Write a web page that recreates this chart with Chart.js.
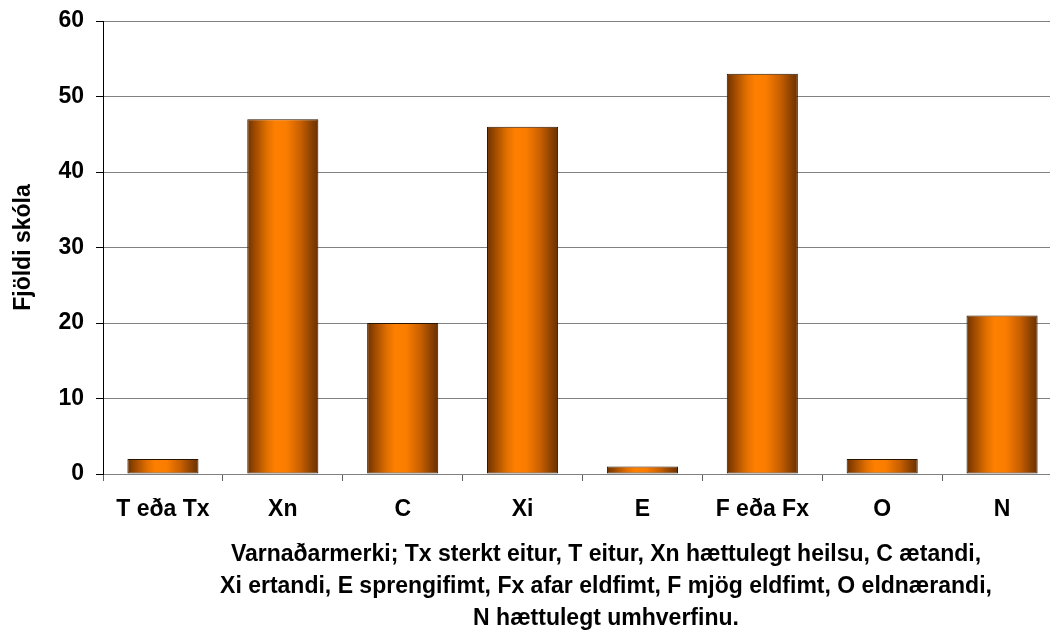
<!DOCTYPE html>
<html>
<head>
<meta charset="utf-8">
<script src="https://cdn.jsdelivr.net/npm/chart.js@4"></script>
<style>
  html, body { margin: 0; padding: 0; background: #fff; overflow: hidden; }
  #wrap { position: relative; width: 1062px; height: 636px; }
</style>
</head>
<body>
<div id="wrap"><canvas id="c" width="1062" height="636"></canvas></div>
<script>
const categories = ["T eða Tx", "Xn", "C", "Xi", "E", "F eða Fx", "O", "N"];
const values = [2, 47, 20, 46, 1, 53, 2, 21];
const yTicks = [0, 10, 20, 30, 40, 50, 60];
const yTitle = "Fjöldi skóla";
const xTitleLines = [
  "Varnaðarmerki; Tx sterkt eitur, T eitur, Xn hættulegt heilsu, C ætandi,",
  "Xi ertandi, E sprengifimt, Fx afar eldfimt, F mjög eldfimt, O eldnærandi,",
  "N hættulegt umhverfinu."
];

const FONT = '"Liberation Sans", Arial, sans-serif';
const BAR_PCT = 0.593;

function barGradient(ctx) {
  const chart = ctx.chart;
  if (!chart.chartArea || !chart.scales.x) return '#f07800';
  const xs = chart.scales.x;
  const cx = xs.getPixelForValue(ctx.dataIndex);
  const w = (xs.right - xs.left) / categories.length * BAR_PCT;
  const g = chart.ctx.createLinearGradient(cx - w / 2, 0, cx + w / 2, 0);
  g.addColorStop(0.00, '#6e3200');
  g.addColorStop(0.10, '#9a4800');
  g.addColorStop(0.28, '#e27000');
  g.addColorStop(0.40, '#ff8000');
  g.addColorStop(0.55, '#fa7d00');
  g.addColorStop(0.75, '#c85f00');
  g.addColorStop(0.90, '#8c4200');
  g.addColorStop(1.00, '#6a3000');
  return g;
}

const xTitlePlugin = {
  id: 'xTitle',
  afterDraw(chart) {
    const c = chart.ctx;
    c.save();
    c.font = 'bold 23px ' + FONT;
    c.fillStyle = '#000';
    c.textAlign = 'center';
    c.textBaseline = 'middle';
    const y0 = 555, lh = 32;
    xTitleLines.forEach((t, i) => c.fillText(t, 606, y0 + i * lh));
    c.restore();
  }
};

new Chart(document.getElementById('c'), {
  type: 'bar',
  data: {
    labels: categories,
    datasets: [{
      data: values,
      backgroundColor: barGradient,
      borderColor: '#2a1400',
      borderWidth: 1,
      borderSkipped: false,
      categoryPercentage: 1,
      barPercentage: BAR_PCT
    }]
  },
  options: {
    responsive: false,
    animation: false,
    layout: { padding: { top: 21, left: 0, right: 0, bottom: 0 } },
    plugins: { legend: { display: false }, tooltip: { enabled: false } },
    scales: {
      x: {
        afterFit(s) { s.height = 162; s.paddingLeft = 0; s.paddingRight = 0; },
        grid: { display: true, drawOnChartArea: false, drawTicks: true, tickLength: 7, color: '#606060', tickColor: '#606060', offset: true },
        border: { display: true, color: '#808080', width: 1 },
        ticks: { color: '#000', padding: 15, font: { family: FONT, size: 23, weight: 'bold' }, maxRotation: 0, autoSkip: false }
      },
      y: {
        min: 0, max: 60,
        afterFit(s) { s.width = 103; s.paddingTop = 0; s.paddingBottom = 0; },
        afterBuildTicks(s) { s.ticks = yTicks.map(v => ({ value: v })); },
        grid: { color: '#808080', tickColor: '#000', tickLength: 7, drawTicks: true },
        border: { display: true, color: '#000', width: 1 },
        ticks: { color: '#000', padding: 12, font: { family: FONT, size: 23, weight: 'bold' } },
        title: { display: true, text: yTitle, color: '#000', padding: { top: 10, bottom: 0 }, font: { family: FONT, size: 23, weight: 'bold' } }
      }
    }
  },
  plugins: [xTitlePlugin]
});
</script>
</body>
</html>
